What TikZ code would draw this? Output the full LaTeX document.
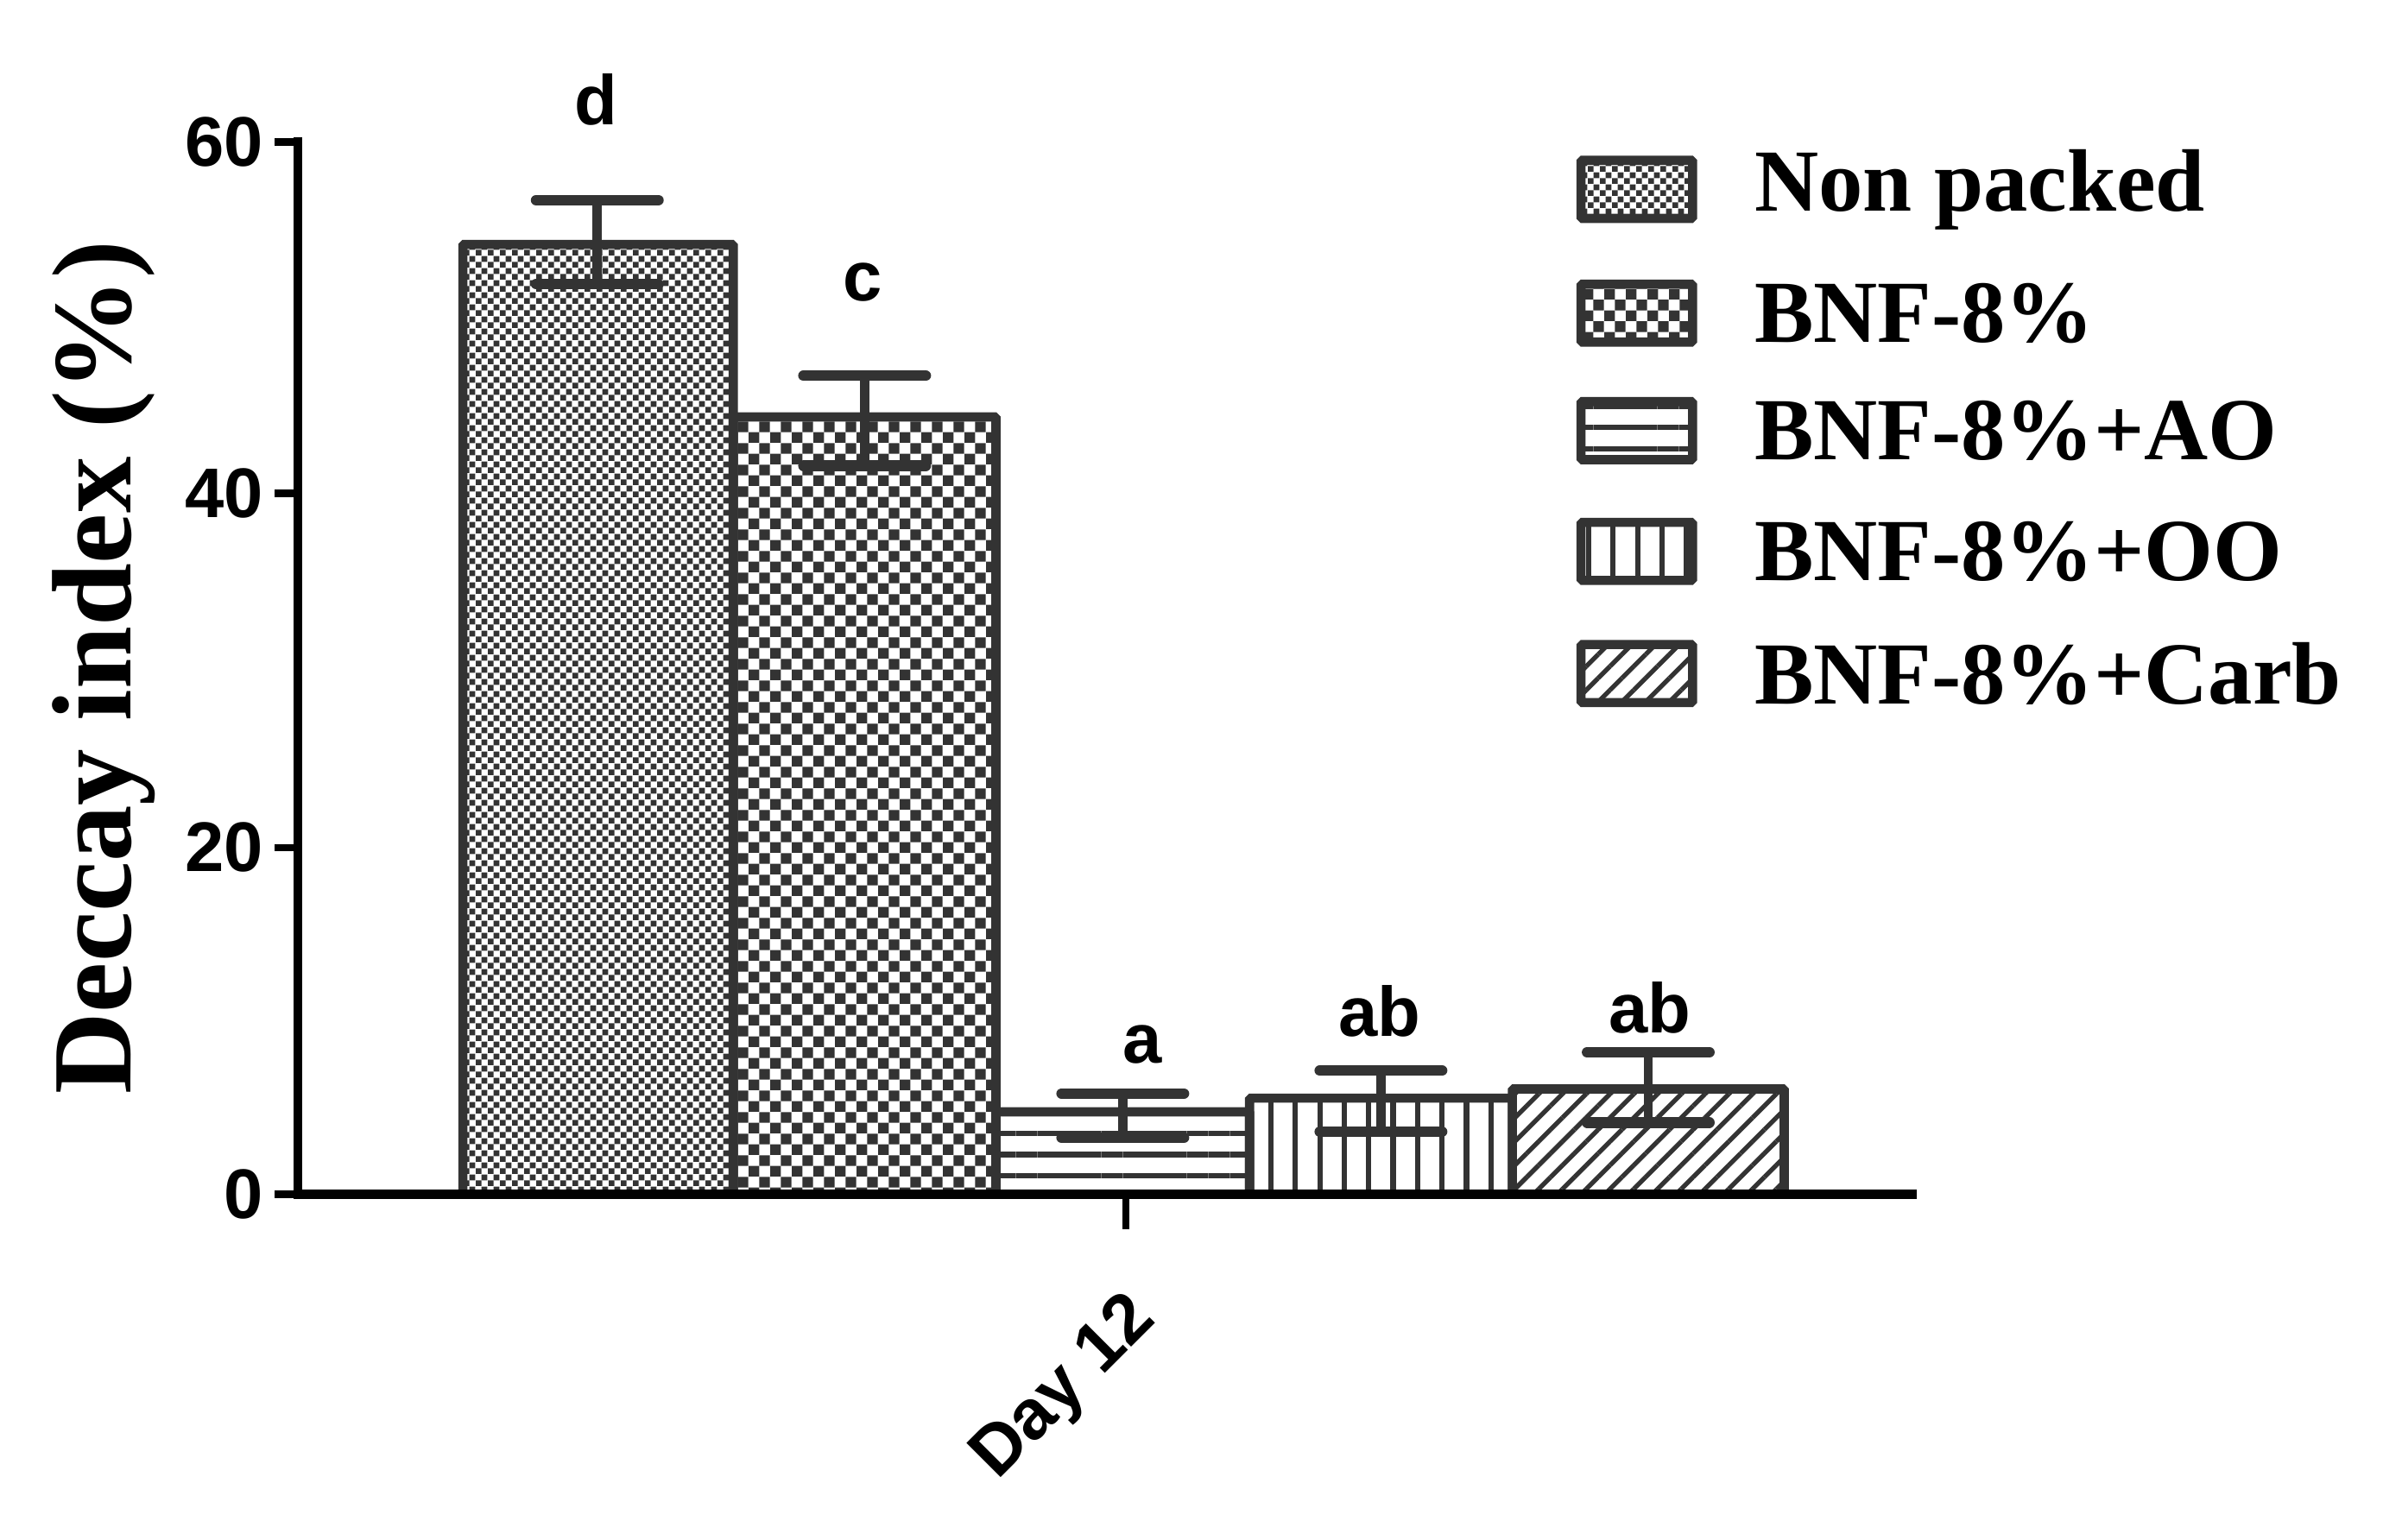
\documentclass[tikz,border=0pt]{standalone}
\usepackage{fontspec}
\setmainfont{Liberation Serif}
\setsansfont{Liberation Sans}
\usetikzlibrary{patterns.meta}
\tikzdeclarepattern{name=checkA, type=uncolored, bounding box={(0pt,0pt) and (8pt,8pt)}, tile size={(8pt,8pt)},
  code={\fill (0pt,0pt) rectangle (4pt,4pt); \fill (4pt,4pt) rectangle (8pt,8pt);}}
\tikzdeclarepattern{name=checkB, type=uncolored, bounding box={(0pt,0pt) and (14pt,14pt)}, tile size={(14pt,14pt)},
  code={\fill (0pt,0pt) rectangle (7pt,7pt); \fill (7pt,7pt) rectangle (14pt,14pt);}}
\definecolor{ink}{HTML}{333333}
\begin{document}
\begin{tikzpicture}[x=1pt,y=-1pt,
  bar/.style={draw=ink,line width=6pt,rounded corners=1pt},
  err/.style={draw=ink,line width=7pt,line cap=round},
  stem/.style={draw=ink,line width=6pt},
  lbl/.style={font=\fontsize{46}{46}\sffamily\bfseries},
  leg/.style={font=\fontsize{58}{58}\selectfont\bfseries,anchor=west},
  p1/.style={pattern={checkA},pattern color=ink},
  p2/.style={pattern={checkB},pattern color=ink},
  p3/.style={pattern={Lines[angle=0,distance=14pt,line width=3.5pt]},pattern color=ink},
  p4/.style={pattern={Lines[angle=90,distance=16pt,line width=3.5pt]},pattern color=ink},
  p5/.style={pattern={Lines[angle=45,distance=11pt,line width=3pt]},pattern color=ink}]
\useasboundingbox (0,0) rectangle (1560,1008);
% bars
\path[bar,p1] (303,782) rectangle (480,160);
\path[bar,p2] (480,782) rectangle (652,273);
\path[bar,p3] (652,782) rectangle (818,728);
\path[bar,p4] (818,782) rectangle (990,719);
\path[bar,p5] (990,782) rectangle (1168,713);
% error bars
\foreach \c/\t/\b in {391/131/186, 566/246/305, 735/716/745, 904/701/741, 1079/689/735}{
  \draw[stem] (\c,\t) -- (\c,\b);
  \draw[err] (\c-40,\t) -- (\c+40,\t);
  \draw[err] (\c-40,\b) -- (\c+40,\b);
}
% axes
\draw[black,line width=6pt] (195,90) -- (195,785) (192,782) -- (1255,782);
\foreach \y/\v in {93/60,323/40,555/20,782/0}{
  \draw[black,line width=5pt] (180,\y) -- (195,\y);
  \node[lbl,anchor=east] (t\v) at (176,\y) {\v};
}
\draw[black,line width=5pt] (737,782) -- (737,805);
\node[lbl,rotate=45,anchor=north east,inner sep=0pt] (day) at (735,842) {Day 12};
\node[font=\fontsize{74}{74}\selectfont\bfseries,rotate=90] (yl) at (68,437) {Deccay index (\%)};
% letters
\node[lbl] (ld) at (390,65) {d};
\node[lbl] (lc) at (565,185) {c};
\node[lbl] (la) at (748,684) {a};
\node[lbl] (lab1) at (903,662) {ab};
\node[lbl] (lab2) at (1080,660) {ab};
% legend
\foreach \y/\p/\t in {124/p1/Non packed,205/p2/BNF-8\%,282/p3/BNF-8\%+AO,361/p4/BNF-8\%+OO,441/p5/BNF-8\%+Carb}{
  \path[bar,\p] (1035,\y-19) rectangle (1108,\y+19);
  \node[leg] at (1145,\y) {\t};
}
\end{tikzpicture}
\end{document}
